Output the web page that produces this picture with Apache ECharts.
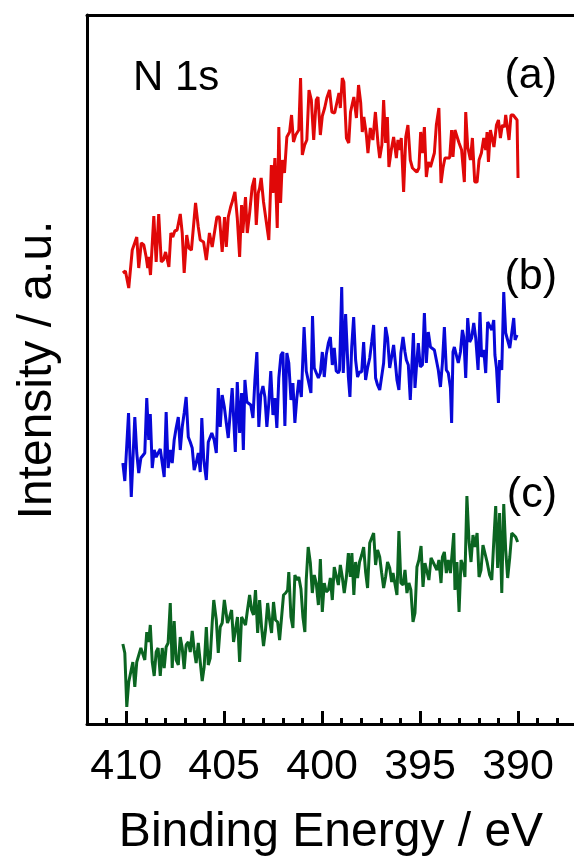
<!DOCTYPE html>
<html>
<head>
<meta charset="utf-8">
<script src="https://cdn.jsdelivr.net/npm/echarts@6/dist/echarts.min.js"></script>
<style>
  html, body { margin: 0; padding: 0; background: #ffffff; }
  #chart { width: 574px; height: 866px; }
</style>
</head>
<body>
<div id="chart"></div>
<script>
// N 1s XPS spectra, three samples stacked with vertical offsets (arbitrary units)
const majorTicks = [410, 405, 400, 395, 390];
const labelA = '(a)', labelB = '(b)', labelC = '(c)';

const energyA = [410.17,410.04,409.87,409.69,409.46,409.36,409.23,409.10,408.98,408.90,
  408.85,408.76,408.59,408.47,408.34,408.21,408.10,407.99,407.93,407.82,
  407.72,407.62,407.52,407.40,407.24,407.14,407.04,406.91,406.80,406.67,
  406.46,406.32,406.22,406.05,405.91,405.81,405.75,405.61,405.53,405.37,
  405.24,405.10,404.98,404.89,404.79,404.67,404.59,404.45,404.33,404.21,
  404.11,404.05,403.91,403.82,403.70,403.57,403.45,403.36,403.26,403.19,
  403.11,402.99,402.89,402.72,402.59,402.51,402.41,402.29,402.21,402.12,
  402.03,401.92,401.80,401.66,401.56,401.46,401.35,401.27,401.19,401.10,
  401.01,400.89,400.78,400.67,400.55,400.43,400.30,400.21,400.09,399.99,
  399.87,399.76,399.62,399.50,399.36,399.24,399.14,399.07,398.97,398.89,
  398.76,398.64,398.55,398.45,398.38,398.25,398.14,398.03,397.95,397.87,
  397.74,397.66,397.54,397.41,397.28,397.15,397.06,396.95,396.86,396.76,
  396.67,396.59,396.47,396.35,396.21,396.13,396.04,395.96,395.84,395.73,
  395.62,395.50,395.39,395.28,395.16,395.06,394.97,394.88,394.78,394.68,
  394.58,394.47,394.37,394.27,394.17,394.04,393.93,393.83,393.73,393.63,
  393.49,393.39,393.32,393.22,393.12,393.01,392.88,392.74,392.67,392.57,
  392.43,392.33,392.21,392.09,391.99,391.87,391.75,391.65,391.58,391.51,
  391.41,391.31,391.23,391.10,391.00,390.90,390.80,390.69,390.63,390.56,
  390.46,390.36,390.25,390.15,390.05,390.00];
const intensityA = [451,453,436,474,487,456,481,479,467,456,
  467,449,508,462,510,462,464,472,471,457,
  491,487,493,494,510,491,451,489,476,474,
  521,497,484,482,464,464,491,477,477,507,
  507,472,507,477,507,517,522,532,506,467,
  519,491,527,491,511,537,546,499,531,536,
  546,522,521,484,559,531,566,496,597,521,
  564,551,587,592,609,582,589,589,594,646,
  569,579,584,634,624,584,624,627,589,608,
  616,626,634,612,611,622,631,616,646,642,
  586,581,612,614,627,606,639,621,592,607,
  589,571,596,584,612,581,566,579,624,581,
  607,557,574,587,566,584,574,586,532,587,
  599,564,556,554,552,556,592,571,597,547,
  562,557,564,571,599,616,541,556,566,564,
  566,594,567,594,594,581,574,542,612,577,
  564,586,542,542,564,571,586,574,592,562,
  594,596,577,599,604,586,599,597,609,607,
  584,609,609,607,604,546];

const energyB = [410.17,410.07,409.88,409.74,409.66,409.56,409.46,409.36,409.25,409.15,
  409.05,408.95,408.85,408.77,408.67,408.57,408.47,408.37,408.26,408.16,
  408.06,407.96,407.86,407.75,407.65,407.55,407.45,407.34,407.24,407.14,
  407.04,406.94,406.83,406.73,406.63,406.53,406.43,406.32,406.22,406.14,
  406.04,405.91,405.81,405.71,405.63,405.51,405.40,405.30,405.20,405.10,
  404.99,404.89,404.79,404.69,404.59,404.52,404.43,404.33,404.21,404.11,
  404.02,403.94,403.84,403.74,403.64,403.53,403.43,403.33,403.23,403.13,
  403.02,402.92,402.82,402.72,402.62,402.51,402.41,402.31,402.21,402.10,
  402.00,401.90,401.80,401.70,401.59,401.49,401.39,401.29,401.19,401.06,
  400.92,400.81,400.71,400.57,400.49,400.40,400.30,400.19,400.09,399.99,
  399.89,399.79,399.68,399.58,399.48,399.38,399.28,399.17,399.11,399.00,
  398.92,398.80,398.66,398.58,398.49,398.39,398.29,398.19,398.09,397.98,
  397.88,397.78,397.68,397.57,397.47,397.37,397.27,397.17,397.06,396.96,
  396.86,396.76,396.66,396.55,396.45,396.35,396.25,396.18,396.08,395.98,
  395.87,395.77,395.70,395.60,395.50,395.41,395.34,395.26,395.17,395.09,
  394.99,394.88,394.78,394.68,394.58,394.47,394.37,394.27,394.17,394.07,
  393.96,393.86,393.76,393.66,393.56,393.45,393.39,393.32,393.25,393.15,
  393.05,392.94,392.84,392.77,392.67,392.57,392.47,392.37,392.26,392.16,
  392.04,391.94,391.86,391.75,391.65,391.55,391.45,391.34,391.24,391.18,
  391.10,391.00,390.94,390.83,390.73,390.63,390.53,390.42,390.32,390.22,
  390.15,390.05];
const intensityB = [261,243,311,227,227,307,271,251,266,266,
  271,326,284,310,256,274,267,271,275,275,
  247,312,256,274,261,284,296,307,274,297,
  311,327,287,282,276,254,261,271,252,306,
  264,244,282,284,291,284,271,336,297,329,
  317,301,286,311,336,337,272,342,291,331,
  274,344,322,321,319,306,344,372,297,329,
  338,327,297,321,353,309,326,296,346,369,
  372,298,371,361,324,341,301,326,344,327,
  397,353,355,331,408,356,356,346,351,372,
  347,369,381,387,359,376,353,351,354,437,
  351,410,347,327,377,407,364,347,352,352,
  382,344,356,366,382,399,346,339,334,334,
  361,397,386,356,357,379,359,344,334,371,
  387,372,364,359,324,362,391,336,361,381,
  357,359,411,361,392,377,376,374,364,354,
  337,361,397,354,351,336,301,372,377,376,
  361,372,394,387,346,406,382,386,401,386,
  354,412,367,374,351,402,404,394,404,369,
  356,321,364,354,432,391,389,376,391,406,
  384,389];

const energyC = [410.17,410.07,409.97,409.87,409.77,409.66,409.56,409.46,409.36,409.25,
  409.15,409.05,408.95,408.85,408.77,408.67,408.57,408.47,408.37,408.26,
  408.16,408.06,407.96,407.86,407.75,407.65,407.55,407.45,407.34,407.24,
  407.14,407.04,406.94,406.83,406.73,406.63,406.53,406.43,406.32,406.22,
  406.12,406.02,405.91,405.81,405.71,405.61,405.53,405.40,405.30,405.20,
  405.10,404.99,404.93,404.83,404.72,404.62,404.52,404.42,404.32,404.21,
  404.11,404.01,403.91,403.81,403.70,403.60,403.50,403.40,403.29,403.19,
  403.09,402.99,402.89,402.78,402.68,402.58,402.48,402.38,402.27,402.17,
  402.07,401.97,401.86,401.76,401.70,401.59,401.49,401.39,401.29,401.19,
  401.08,400.98,400.88,400.81,400.71,400.60,400.50,400.40,400.30,400.19,
  400.09,399.99,399.89,399.79,399.68,399.58,399.48,399.38,399.28,399.17,
  399.07,398.97,398.87,398.76,398.66,398.56,398.48,398.38,398.29,398.19,
  398.09,397.98,397.88,397.78,397.68,397.57,397.47,397.37,397.27,397.17,
  397.06,396.96,396.86,396.76,396.66,396.55,396.45,396.38,396.30,396.18,
  396.08,395.98,395.87,395.77,395.67,395.57,395.47,395.36,395.26,395.16,
  395.06,394.95,394.85,394.75,394.65,394.55,394.44,394.34,394.24,394.14,
  394.04,393.93,393.86,393.76,393.66,393.56,393.45,393.35,393.28,393.22,
  393.12,393.01,392.91,392.81,392.71,392.61,392.50,392.40,392.30,392.20,
  392.09,391.99,391.89,391.79,391.69,391.58,391.45,391.34,391.24,391.14,
  391.04,390.94,390.83,390.73,390.63,390.53,390.42,390.32,390.22,390.12,
  390.02];
const intensityC = [80,71,17,42,40,62,37,62,64,76,
  77,64,92,82,99,62,48,72,76,48,
  76,56,77,81,121,56,103,64,59,87,
  76,55,79,82,72,93,74,61,81,83,
  43,57,97,59,66,101,124,104,71,97,
  101,124,126,101,107,114,82,84,107,62,
  107,107,99,114,129,114,109,134,91,124,
  97,78,94,121,104,91,122,104,102,84,
  82,129,131,134,152,107,96,149,144,147,
  135,107,92,144,177,161,131,149,141,119,
  165,112,141,132,134,146,124,157,156,139,
  159,147,131,147,171,147,171,129,162,146,
  162,169,177,152,136,181,181,191,159,174,
  167,151,136,147,162,156,142,151,152,129,
  193,141,139,154,131,141,134,102,111,157,
  164,178,137,161,162,144,166,162,162,154,
  164,141,167,172,151,164,151,174,191,134,
  162,112,164,159,147,228,182,162,189,177,
  191,147,154,179,177,162,149,144,182,218,
  156,211,131,220,174,146,167,191,189,187,
  182];

const FONT = '"Liberation Sans", Arial, Helvetica, sans-serif';
const pairs = (xs, ys) => xs.map((x, i) => [x, ys[i]]);

const chart = echarts.init(document.getElementById('chart'), null, { renderer: 'canvas' });

// the energy axis runs on past the right edge of the canvas
const xBase = { type: 'value', min: 385, max: 412, inverse: true, gridIndex: 0, splitLine: { show: false } };

chart.setOption({
  animation: false,
  backgroundColor: '#ffffff',
  grid: { left: 87, top: 15, width: 529, height: 709, containLabel: false, outerBoundsMode: 'none' },
  xAxis: [
    Object.assign({}, xBase, {
      position: 'bottom', interval: 5,
      axisLine: { show: true, lineStyle: { color: '#000', width: 3 } },
      axisTick: { show: true, inside: true, length: 13, lineStyle: { color: '#000', width: 3 } },
      axisLabel: {
        show: true, margin: 22, color: '#000', fontSize: 43, fontFamily: FONT,
        formatter: v => majorTicks.includes(v) ? String(v) : ''
      }
    }),
    Object.assign({}, xBase, {
      position: 'bottom', interval: 1,
      axisLine: { show: false },
      axisTick: { show: true, inside: true, length: 6, lineStyle: { color: '#000', width: 3 } },
      axisLabel: { show: false }
    }),
    Object.assign({}, xBase, {
      position: 'top',
      axisLine: { show: true, lineStyle: { color: '#000', width: 3 } },
      axisTick: { show: false },
      axisLabel: { show: false }
    })
  ],
  yAxis: {
    type: 'value', min: 0, max: 709,
    axisLine: { show: true, lineStyle: { color: '#000', width: 3 } },
    axisTick: { show: false }, axisLabel: { show: false }, splitLine: { show: false }
  },
  series: [
    { name: labelA, type: 'line', data: pairs(energyA, intensityA), showSymbol: false,
      lineStyle: { color: '#e00808', width: 3 }, z: 3 },
    { name: labelB, type: 'line', data: pairs(energyB, intensityB), showSymbol: false,
      lineStyle: { color: '#0808d8', width: 3 }, z: 3 },
    { name: labelC, type: 'line', data: pairs(energyC, intensityC), showSymbol: false,
      lineStyle: { color: '#0b6521', width: 3 }, z: 3 }
  ],
  graphic: [
    { type: 'text', x: 38, y: 370, rotation: Math.PI / 2,
      style: { text: 'Intensity / a.u.', font: '48px ' + FONT, fill: '#000', align: 'center', verticalAlign: 'middle' } },
    { type: 'text', x: 331, y: 833,
      style: { text: 'Binding Energy / eV', font: '48px ' + FONT, fill: '#000', align: 'center', verticalAlign: 'middle' } },
    { type: 'text', x: 133, y: 78,
      style: { text: 'N 1s', font: '42px ' + FONT, fill: '#000', align: 'left', verticalAlign: 'middle' } },
    { type: 'text', x: 557, y: 76,
      style: { text: labelA, font: '43px ' + FONT, fill: '#000', align: 'right', verticalAlign: 'middle' } },
    { type: 'text', x: 557, y: 277,
      style: { text: labelB, font: '43px ' + FONT, fill: '#000', align: 'right', verticalAlign: 'middle' } },
    { type: 'text', x: 557, y: 495,
      style: { text: labelC, font: '43px ' + FONT, fill: '#000', align: 'right', verticalAlign: 'middle' } }
  ]
});
</script>
</body>
</html>
